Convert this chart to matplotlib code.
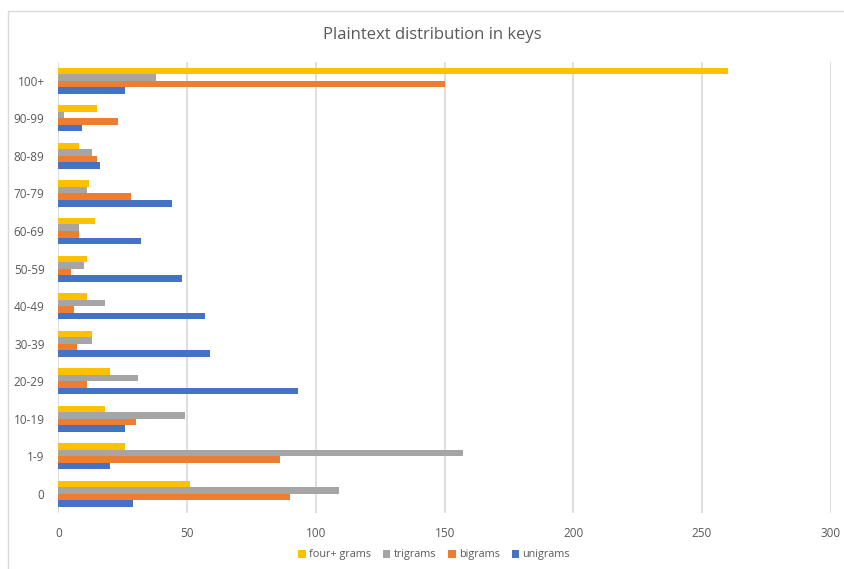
import numpy as np
import matplotlib
matplotlib.use("Agg")
import matplotlib.pyplot as plt
from matplotlib.patches import Rectangle

# Counts per length bucket, bottom category first
categories = ["0", "1-9", "10-19", "20-29", "30-39", "40-49",
              "50-59", "60-69", "70-79", "80-89", "90-99", "100+"]
unigrams = [29, 20, 26, 93, 59, 57, 48, 32, 44, 16, 9, 26]
bigrams = [90, 86, 30, 11, 7, 6, 5, 8, 28, 15, 23, 150]
trigrams = [109, 157, 49, 31, 13, 18, 10, 8, 11, 13, 2, 38]
fourplus = [51, 26, 18, 20, 13, 11, 11, 14, 12, 8, 15, 260]

plt.rcParams["font.family"] = ["Open Sans", "DejaVu Sans"]
text_col = "#595959"
grid_col = "#D9D9D9"

W, H = 845, 569
fig = plt.figure(figsize=(W / 100, H / 100), dpi=100)
ax = fig.add_axes([58.5 / W, (H - 512.7) / H, (830.7 - 58.5) / W, (512.7 - 62) / H])

y = np.arange(len(categories))
bh = 0.174
series = [
    (unigrams, "unigrams", "#4472C4", -1.5),
    (bigrams, "bigrams", "#ED7D31", -0.5),
    (trigrams, "trigrams", "#A5A5A5", 0.5),
    (fourplus, "four+ grams", "#FFC000", 1.5),
]
handles = {}
for vals, name, col, off in series:
    handles[name] = ax.barh(y + off * bh, vals, height=bh, color=col,
                            label=name, zorder=3)

ax.set_xlim(0, 300)
ax.set_ylim(-0.5, len(categories) - 0.5)
ax.set_yticks(y)
ax.set_yticklabels(categories)
ax.set_xticks(np.arange(0, 301, 50))
ax.xaxis.grid(True, color=grid_col, linewidth=1.2, zorder=0)
ax.tick_params(length=0, colors=text_col, labelsize=8.5)
ax.tick_params(axis="x", pad=10)
ax.tick_params(axis="y", pad=10)
for s in ax.spines.values():
    s.set_visible(False)

fig.text(432 / W, 1 - 35 / H, "Plaintext distribution in keys",
         ha="center", va="center", fontsize=12, color=text_col)

order = ["four+ grams", "trigrams", "bigrams", "unigrams"]
fig.legend([handles[n] for n in order], order, loc="center",
           bbox_to_anchor=(434 / W, 1 - 555 / H), ncol=4, frameon=False,
           fontsize=7.8, labelcolor=text_col, handlelength=0.7,
           handleheight=0.7, handletextpad=0.3, columnspacing=1.1)

# light chart border
fig.patches.append(Rectangle((8.5 / W, -0.1), 1.2, 1 - 11.5 / H + 0.1,
                             transform=fig.transFigure, fill=False,
                             edgecolor=grid_col, linewidth=1))

fig.savefig("out.png", dpi=100, facecolor="white")
